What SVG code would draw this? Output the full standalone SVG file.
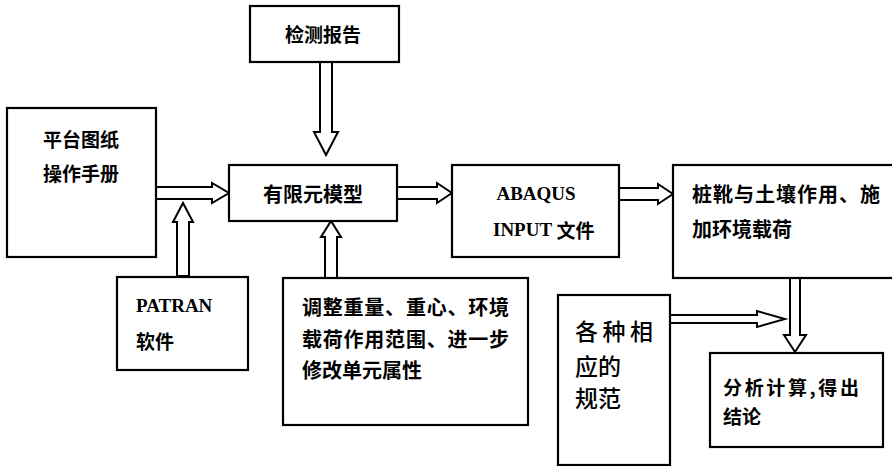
<svg xmlns="http://www.w3.org/2000/svg" width="892" height="466" viewBox="0 0 892 466">
<style>
.box{fill:#fff;stroke:#000;stroke-width:2.2}
.arr{fill:#fff;stroke:#000;stroke-width:2;stroke-linejoin:miter}
.t{font-family:"Noto Sans CJK SC","Noto Sans",sans-serif;font-size:19px;font-weight:bold;fill:#000;dominant-baseline:central}
.e{font-family:"Liberation Serif","Noto Sans CJK SC",serif;font-size:19px;font-weight:bold;fill:#000;dominant-baseline:central}
.n{font-family:"Noto Sans CJK SC",sans-serif;font-size:23px;font-weight:500;fill:#000;dominant-baseline:central}
</style>
<rect width="892" height="466" fill="#fff"/>
<g id="connectors">
<polygon class="arr" points="156,187 212,187 212,183 229,193 212,203 212,199 156,199"/>
<polygon class="arr" points="397,187 437,187 437,183 452,193 437,203 437,199 397,199"/>
<polygon class="arr" points="619,188 658,188 658,184 673,194 658,204 658,200 619,200"/>
<polygon class="arr" points="320,62 332,62 332,132 338,132 326,155 314,132 320,132"/>
<polygon class="arr" points="177,276 177,222 173,222 183,203 193,222 189,222 189,276"/>
<polygon class="arr" points="325,278 325,237 321,237 331,221 341,237 337,237 337,278"/>
<polygon class="arr" points="790,278 800,278 800,335 806,335 795,352 784,335 790,335"/>
<polygon class="arr" points="670,315 757,315 757,311 785,319 757,327 757,323 670,323"/>
</g>
<g id="n_pingtai">
<rect class="box" x="7" y="108" width="149" height="149"/>
<text class="t" x="43" y="138">平台图纸</text>
<text class="t" x="43" y="172">操作手册</text>
</g>
<g id="n_jiance">
<rect class="box" x="250" y="6" width="149" height="56"/>
<text class="t" x="285" y="33">检测报告</text>
</g>
<g id="n_youxian">
<rect class="box" x="229" y="165" width="168" height="56"/>
<text class="t" x="263" y="193" style="font-size:20px">有限元模型</text>
</g>
<g id="n_abaqus">
<rect class="box" x="452" y="165" width="167" height="92"/>
<text class="e" x="536" y="193" text-anchor="middle">ABAQUS</text>
<text class="e" x="493" y="229">INPUT <tspan style="font-family:'Noto Sans CJK SC',sans-serif">文件</tspan></text>
</g>
<g id="n_zhuangxue">
<rect class="box" x="673" y="165" width="222" height="113"/>
<text class="t" x="692" y="193" style="font-size:20px" textLength="188">桩靴与土壤作用、施</text>
<text class="t" x="692" y="228" style="font-size:20px">加环境载荷</text>
</g>
<g id="n_patran">
<rect class="box" x="117" y="277" width="131" height="93"/>
<text class="e" x="136" y="305">PATRAN</text>
<text class="t" x="136" y="340">软件</text>
</g>
<g id="n_tiaozheng">
<rect class="box" x="283" y="278" width="245" height="147"/>
<text class="t" x="302" y="306" style="font-size:20px" textLength="207">调整重量、重心、环境</text>
<text class="t" x="302" y="338" style="font-size:20px" textLength="207">载荷作用范围、进一步</text>
<text class="t" x="302" y="369" style="font-size:20px">修改单元属性</text>
</g>
<g id="n_guifan">
<rect class="box" x="558" y="295" width="112" height="170"/>
<text class="n" x="575" y="330" textLength="78">各种相</text>
<text class="n" x="575" y="365">应的</text>
<text class="n" x="575" y="397">规范</text>
</g>
<g id="n_fenxi">
<rect class="box" x="710" y="353" width="173" height="94"/>
<text class="t" x="723" y="386" textLength="136">分析计算,得出</text>
<text class="t" x="723" y="415">结论</text>
</g>
</svg>
